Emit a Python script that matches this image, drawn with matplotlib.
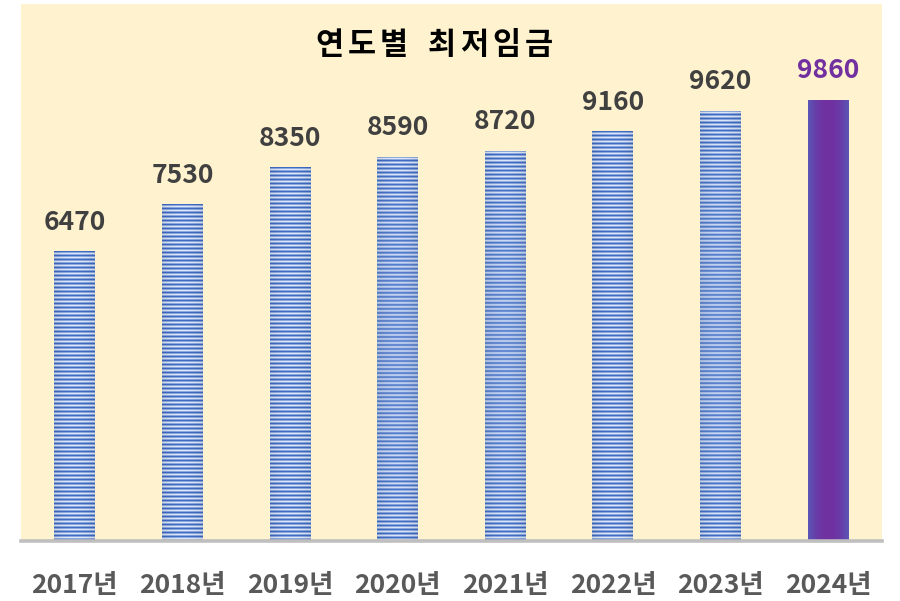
import numpy as np
import matplotlib
matplotlib.use('Agg')
import matplotlib.pyplot as plt
from matplotlib.colors import to_rgb

plt.rcParams['font.family'] = ['Noto Sans CJK KR', 'DejaVu Sans']

# ---------------------------------------------------------
# Data
# ---------------------------------------------------------
years = ['2017년', '2018년', '2019년', '2020년', '2021년', '2022년', '2023년', '2024년']
wages = [6470, 7530, 8350, 8590, 8720, 9160, 9620, 9860]
title = '연도별 최저임금'

# ---------------------------------------------------------
# Figure
# ---------------------------------------------------------
fig = plt.figure(figsize=(9, 6.01), dpi=100)
fig.patch.set_facecolor('white')
ax = fig.add_axes([21 / 900, 60 / 601, 861 / 900, 537 / 601])
ax.set_facecolor('#fff2cf')

ymax = 12000
ax.set_xlim(-0.5, len(years) - 0.5)
ax.set_ylim(0, ymax)

x = np.arange(len(years))
bar_w = 0.38
bars = ax.bar(x, wages, width=bar_w, color='none', edgecolor='none', zorder=2)

px_per_unit = 537 / ymax

# striped blue texture for all bars but the last one
dark = np.array(to_rgb('#3f6cc6'))
light = np.array(to_rgb('#dde8fa'))
mid = (dark + light) / 2
stripe = [dark, mid, light, mid]

for i, b in enumerate(bars):
    h = b.get_height()
    x0 = b.get_x()
    rows = max(int(round(h * px_per_unit)), 1)
    cols = 40
    t = np.linspace(-1, 1, cols)
    if i < len(bars) - 1:
        img = np.zeros((rows, cols, 3))
        for r in range(rows):
            img[r, :, :] = stripe[r % 4]
        shade = 1 - 0.08 * t ** 2
        img = img * shade[None, :, None]
    else:
        c_center = np.array(to_rgb('#7030a0'))
        c_edge = np.array(to_rgb('#5a56b6'))
        w = (np.abs(t) ** 2)[:, None]
        row = c_center * (1 - w) + c_edge * w
        img = np.repeat(row[None, :, :], 2, axis=0)
    im = ax.imshow(np.clip(img, 0, 1), extent=[x0, x0 + bar_w, 0, h],
                   aspect='auto', interpolation='bilinear', zorder=2)
    im.set_clip_path(b)

# value labels
for i, v in enumerate(wages):
    col = '#7030a0' if i == len(wages) - 1 else '#404040'
    ax.text(x[i], v + 29 / px_per_unit, str(v), ha='center', va='center',
            fontsize=19, fontweight='bold', color=col, zorder=3)

# axes styling
for s in ['top', 'right', 'left']:
    ax.spines[s].set_visible(False)
ax.spines['bottom'].set_color('#bfbfbf')
ax.spines['bottom'].set_linewidth(2.6)
ax.spines['bottom'].set_zorder(4)
ax.set_yticks([])
ax.set_xticks(x)
ax.set_xticklabels(years, fontsize=19, fontweight='bold', color='#595959')
ax.tick_params(axis='x', length=0, pad=22)

# title, spaced out letter by letter
pitch = 32.5
start = 329
pos = start
for ch in title:
    if ch == ' ':
        pos += 15
        continue
    fig.text(pos / 900, 1 - 45 / 601, ch, ha='center', va='center',
             fontsize=22, fontweight='bold', color='black')
    pos += pitch

fig.savefig('out.png', dpi=100)
